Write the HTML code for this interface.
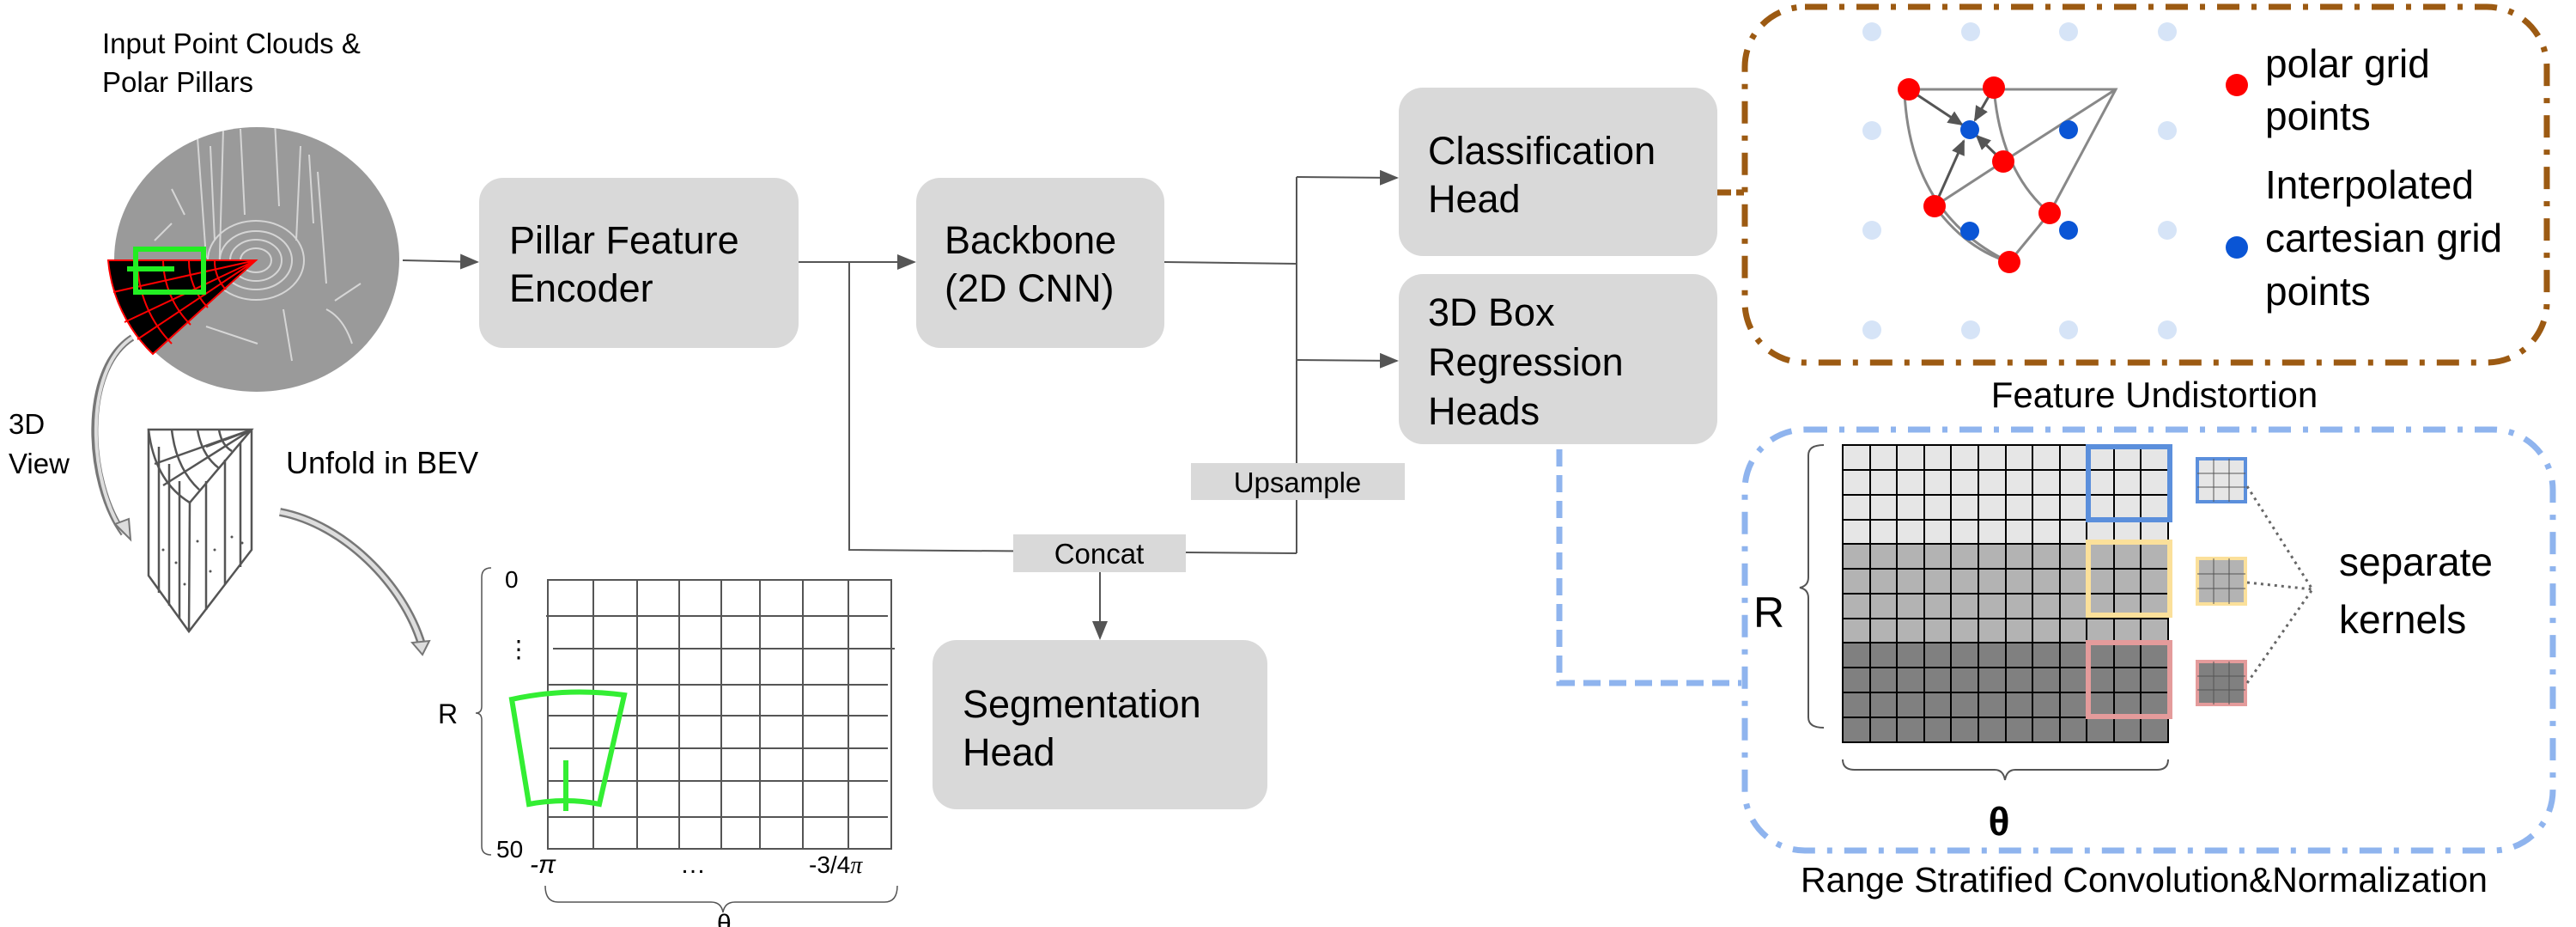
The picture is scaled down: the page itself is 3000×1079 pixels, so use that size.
<!DOCTYPE html>
<html><head><meta charset="utf-8"><style>
html,body{margin:0;padding:0;background:#fff;}
svg{display:block;}
text{font-family:"Liberation Sans",Arial,sans-serif;fill:#000;}
</style></head><body>
<svg width="3000" height="1079" viewBox="0 0 3000 1079" xmlns="http://www.w3.org/2000/svg">
<defs>
<marker id="ah2" markerWidth="22" markerHeight="18" refX="20" refY="9" orient="auto" markerUnits="userSpaceOnUse" viewBox="0 0 22 18">
<path d="M0,0 L22,9 L0,18 z" fill="#555"/></marker>
<marker id="ah3" markerWidth="18" markerHeight="16" refX="16" refY="8" orient="auto" markerUnits="userSpaceOnUse" viewBox="0 0 18 16">
<path d="M0,0 L18,8 L0,16 z" fill="#555"/></marker>
<clipPath id="cc"><ellipse cx="299" cy="302" rx="166" ry="154"/></clipPath>
</defs>

<text x="119" y="62" font-size="33">Input Point Clouds &amp;</text>
<text x="119" y="107" font-size="33">Polar Pillars</text>

<ellipse cx="299" cy="302" rx="166" ry="154" fill="#9a9a9a"/>
<g clip-path="url(#cc)" stroke="#e0e0e0" stroke-width="2" fill="none" opacity="0.85">
<ellipse cx="298" cy="303" rx="18" ry="14"/><ellipse cx="298" cy="303" rx="30" ry="24"/><ellipse cx="298" cy="303" rx="42" ry="34"/><ellipse cx="298" cy="303" rx="56" ry="46"/>
<path d="M230,160 L240,300 M260,150 L255,330 M350,170 L345,280 M370,200 L380,330 M390,350 L420,330 M200,220 L215,250 M330,360 L340,420 M245,170 L250,280 M360,180 L365,260 M280,150 L285,250 M320,140 L325,240 M380,360 Q400,370 410,400 M240,380 L300,400 M200,260 L180,280"/>
</g>
<path d="M298,303 L126,303 A172,172 0 0 0 178,412 Z" fill="#000" stroke="#f00" stroke-width="2"/>
<g stroke="#f00" stroke-width="2" fill="none">
<path d="M298,303 L132,340 M298,303 L145,375 M298,303 L160,395"/>
<path d="M160,303 A138,138 0 0 0 200,400 M190,303 A108,108 0 0 0 222,378 M220,303 A78,78 0 0 0 242,358 M250,303 A48,48 0 0 0 263,337"/>
</g>
<rect x="158" y="290" width="79" height="50" fill="none" stroke="#2e2" stroke-width="6"/>
<line x1="148" y1="313" x2="203" y2="313" stroke="#2e2" stroke-width="6"/>
<line x1="469" y1="303" x2="556" y2="305" stroke="#555" stroke-width="2" marker-end="url(#ah2)"/>

<text x="10" y="505" font-size="33">3D</text>
<text x="10" y="551" font-size="33">View</text>
<text x="333" y="551" font-size="36">Unfold in BEV</text>
<path d="M154,393 C95,430 100,560 144,621" fill="none" stroke="#777" stroke-width="8"/>
<path d="M154,393 C97,430 102,560 144,621" fill="none" stroke="#ddd" stroke-width="4"/>
<path d="M134,610 L152,628 L150,604 z" fill="#ddd" stroke="#777" stroke-width="2"/>
<path d="M326,596 C400,610 470,680 491,750" fill="none" stroke="#777" stroke-width="10"/>
<path d="M326,596 C400,610 470,680 491,750" fill="none" stroke="#ddd" stroke-width="5"/>
<path d="M480,748 L492,762 L500,746 z" fill="#ddd" stroke="#777" stroke-width="2"/>
<g stroke="#555" stroke-width="2.5" fill="none">
<path d="M173,500 L293,500 L221,585 Q180,560 173,500 Z"/>
<path d="M173,500 L173,670 L220,735 L293,640 L293,500 M221,585 L220,735"/>
<path d="M293,500 L180,540 M293,500 L190,565 M293,500 L240,520 M293,500 L262,512 M200,500 Q205,545 232,570 M230,500 Q235,530 255,545 M255,500 Q258,518 270,525"/>
<path d="M185,520 L185,690 M197,540 L197,705 M209,560 L209,720 M240,560 L240,710 M262,535 L262,680 M280,515 L280,660"/>
</g>
<g fill="#555">
<circle cx="190" cy="640" r="1.5"/><circle cx="205" cy="655" r="1.5"/><circle cx="230" cy="630" r="1.5"/><circle cx="250" cy="640" r="1.5"/><circle cx="270" cy="625" r="1.5"/><circle cx="215" cy="680" r="1.5"/><circle cx="245" cy="665" r="1.5"/><circle cx="282" cy="632" r="1.5"/>
</g>

<g stroke="#555" stroke-width="2" fill="none">
<rect x="638" y="675" width="400" height="313"/>
<path d="M691,675V988M742,675V988M791,675V988M840,675V988M885,675V988M935,675V988M988,675V988"/>
<path d="M636,717H1034M644,755H1042M638,797H1034M638,833H1034M640,871H1034M638,909H1034M638,951H1034"/>
<path d="M572,661 Q561,661 561,672 L561,822 Q561,830 554,830 Q561,830 561,838 L561,985 Q561,995 572,995" stroke-width="1.5"/>
<path d="M635,1031 Q635,1050 650,1050 L828,1050 Q840,1050 842,1062 Q844,1050 856,1050 L1030,1050 Q1045,1050 1045,1031" stroke-width="1.5"/>
</g>
<text x="588" y="684" font-size="28">0</text>
<text x="590" y="765" font-size="28">⋮</text>
<text x="510" y="842" font-size="32">R</text>
<text x="578" y="998" font-size="28">50</text>
<text x="617" y="1016" font-size="30" font-style="italic" font-family="Liberation Serif">-π</text>
<text x="792" y="1016" font-size="30">…</text>
<text x="942" y="1016" font-size="28">-3/4<tspan font-family="Liberation Serif" font-style="italic">π</tspan></text>
<text x="835" y="1085" font-size="30">θ</text>
<g stroke="#3e3" stroke-width="6" fill="none">
<path d="M596,814 Q660,800 727,809 L698,936 Q660,928 616,936 Z"/>
<path d="M659,885 L659,944"/>
</g>

<g fill="#d9d9d9">
<rect x="558" y="207" width="372" height="198" rx="28"/>
<rect x="1067" y="207" width="289" height="198" rx="28"/>
<rect x="1629" y="102" width="371" height="196" rx="28"/>
<rect x="1629" y="319" width="371" height="198" rx="28"/>
<rect x="1086" y="745" width="390" height="197" rx="28"/>
</g>
<g font-size="45">
<text x="593" y="295">Pillar Feature</text><text x="593" y="351">Encoder</text>
<text x="1100" y="295">Backbone</text><text x="1100" y="351">(2D CNN)</text>
<text x="1663" y="191">Classification</text><text x="1663" y="247">Head</text>
<text x="1663" y="379">3D Box</text><text x="1663" y="437">Regression</text><text x="1663" y="494">Heads</text>
<text x="1121" y="835">Segmentation</text><text x="1121" y="891">Head</text>
</g>

<g stroke="#555" stroke-width="2" fill="none">
<path d="M930,305 L1065,305" marker-end="url(#ah2)"/>
<path d="M989,305 L989,640 L1510,644"/>
<path d="M1356,305 L1510,307 M1510,206 L1510,644"/>
<path d="M1510,206 L1627,207" marker-end="url(#ah2)"/>
<path d="M1510,419 L1627,420" marker-end="url(#ah2)"/>
<path d="M1281,666 L1281,743" marker-end="url(#ah2)"/>
</g>
<rect x="1387" y="539" width="249" height="43" fill="#d9d9d9"/>
<text x="1511" y="573" font-size="33" text-anchor="middle">Upsample</text>
<rect x="1180" y="622" width="201" height="44" fill="#d9d9d9"/>
<text x="1280" y="656" font-size="33" text-anchor="middle">Concat</text>

<path d="M2000,224 L2031,224" stroke="#9c5a12" stroke-width="7" stroke-dasharray="16,6"/>
<rect x="2032" y="8" width="934" height="414" rx="70" fill="none" stroke="#9c5a12" stroke-width="7" stroke-dasharray="26,14,6,14"/>
<g fill="#d6e4f7">
<circle cx="2180" cy="37" r="11"/><circle cx="2295" cy="37" r="11"/><circle cx="2409" cy="37" r="11"/><circle cx="2524" cy="37" r="11"/>
<circle cx="2180" cy="152" r="11"/><circle cx="2524" cy="152" r="11"/>
<circle cx="2180" cy="268" r="11"/><circle cx="2524" cy="268" r="11"/>
<circle cx="2180" cy="384" r="11"/><circle cx="2295" cy="384" r="11"/><circle cx="2409" cy="384" r="11"/><circle cx="2524" cy="384" r="11"/>
</g>
<g stroke="#888" stroke-width="3" fill="none">
<path d="M2223,104 L2464,104 L2387,248"/>
<path d="M2464,104 L2333,188 L2253,240"/>
<path d="M2218,108 Q2225,250 2340,305"/>
<path d="M2322,102 Q2330,200 2387,248"/>
<path d="M2253,240 Q2290,290 2340,305 L2387,248"/>
</g>
<g stroke="#555" stroke-width="3" fill="none">
<path d="M2223,104 L2285,145" marker-end="url(#ah3)"/>
<path d="M2322,102 L2300,140" marker-end="url(#ah3)"/>
<path d="M2253,240 L2287,164" marker-end="url(#ah3)"/>
<path d="M2333,188 L2302,158" marker-end="url(#ah3)"/>
</g>
<g fill="#f00">
<circle cx="2223" cy="104" r="13"/><circle cx="2322" cy="102" r="13"/><circle cx="2333" cy="188" r="13"/>
<circle cx="2253" cy="240" r="13"/><circle cx="2387" cy="248" r="13"/><circle cx="2340" cy="305" r="13"/>
<circle cx="2605" cy="99" r="13"/>
</g>
<g fill="#0a55d5">
<circle cx="2294" cy="151" r="11"/><circle cx="2409" cy="151" r="11"/><circle cx="2294" cy="269" r="11"/><circle cx="2409" cy="268" r="11"/>
<circle cx="2605" cy="288" r="13"/>
</g>
<g font-size="46">
<text x="2638" y="90">polar grid</text><text x="2638" y="151">points</text>
<text x="2638" y="231">Interpolated</text><text x="2638" y="293">cartesian grid</text><text x="2638" y="355">points</text>
</g>
<text x="2509" y="474" font-size="42" text-anchor="middle">Feature Undistortion</text>

<path d="M1816,523 L1816,795 L2028,795" fill="none" stroke="#8fb4ee" stroke-width="7" stroke-dasharray="20,10"/>
<rect x="2032" y="500" width="941" height="490" rx="70" fill="none" stroke="#8fb4ee" stroke-width="7" stroke-dasharray="26,14,6,14"/>
<rect x="2146" y="518" width="379" height="115" fill="#e6e6e6"/>
<rect x="2146" y="633" width="379" height="115" fill="#b3b3b3"/>
<rect x="2146" y="748" width="379" height="116" fill="#808080"/>
<g stroke="#000" stroke-width="2" fill="none">
<rect x="2146" y="518" width="379" height="346"/>
<path d="M2178,518V864M2209,518V864M2241,518V864M2272,518V864M2304,518V864M2336,518V864M2367,518V864M2399,518V864M2430,518V864M2462,518V864M2493,518V864"/>
<path d="M2146,547H2525M2146,576H2525M2146,605H2525M2146,633H2525M2146,662H2525M2146,691H2525M2146,720H2525M2146,748H2525M2146,777H2525M2146,806H2525M2146,835H2525"/>
</g>
<rect x="2432" y="520" width="95" height="85" fill="none" stroke="#5b8fdc" stroke-width="6"/>
<rect x="2432" y="631" width="95" height="85" fill="none" stroke="#fbe09a" stroke-width="6"/>
<rect x="2432" y="748" width="95" height="86" fill="none" stroke="#e49b9b" stroke-width="6"/>
<g stroke-width="4">
<rect x="2559" y="534" width="56" height="50" fill="#e6e6e6" stroke="#5b8fdc"/>
<rect x="2559" y="650" width="56" height="53" fill="#b3b3b3" stroke="#fbe09a"/>
<rect x="2559" y="770" width="56" height="50" fill="#808080" stroke="#e49b9b"/>
</g>
<g stroke="#555" stroke-width="1" fill="none">
<path d="M2559,551H2615M2559,567H2615M2578,534V584M2596,534V584"/>
<path d="M2559,668H2615M2559,685H2615M2578,650V703M2596,650V703"/>
<path d="M2559,787H2615M2559,803H2615M2578,770V820M2596,770V820"/>
</g>
<g stroke="#666" stroke-width="3" stroke-dasharray="3,5" fill="none">
<path d="M2617,566 L2693,686 M2617,678 L2693,686 M2617,795 L2693,686"/>
</g>
<text x="2724" y="670" font-size="46">separate</text>
<text x="2724" y="737" font-size="46">kernels</text>
<path d="M2124,518 Q2106,518 2106,530 L2106,672 Q2106,682 2096,684 Q2106,686 2106,696 L2106,835 Q2106,847 2124,847" fill="none" stroke="#555" stroke-width="2"/>
<text x="2042" y="730" font-size="50">R</text>
<path d="M2146,884 Q2146,896 2160,896 L2323,896 Q2333,896 2335,908 Q2337,896 2347,896 L2512,896 Q2525,896 2525,884" fill="none" stroke="#555" stroke-width="2"/>
<text x="2328" y="972" font-size="46" font-weight="bold" font-family="Liberation Serif" text-anchor="middle">θ</text>
<text x="2497" y="1038" font-size="41" text-anchor="middle">Range Stratified Convolution&amp;Normalization</text>
</svg>
</body></html>
